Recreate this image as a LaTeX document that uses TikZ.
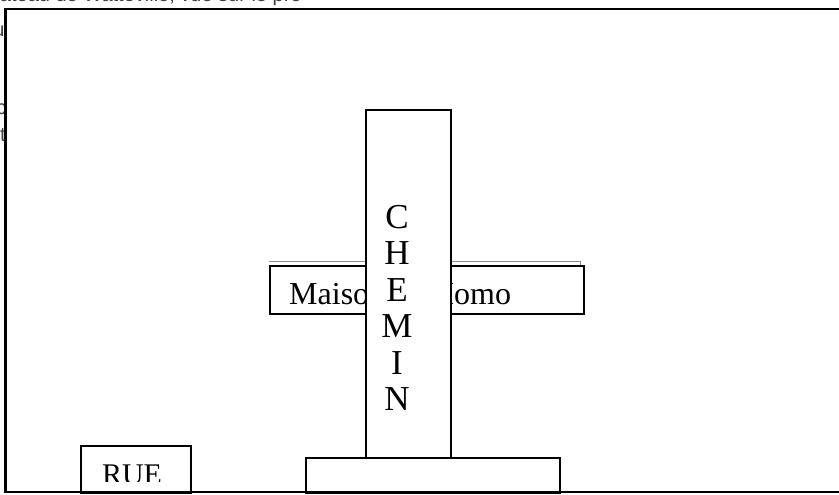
\documentclass[tikz,border=0pt]{standalone}
\usepackage{fontspec}
\setmainfont{Liberation Serif}
\newfontfamily\labelsans{Liberation Sans}
\begin{document}
\begin{tikzpicture}[x=1pt,y=-1pt,
  plotbox/.style={draw=black, line width=1.8pt, fill=white, inner sep=0pt, anchor=north west},
  frameline/.style={draw=black, line width=2.4pt},
  bigtext/.style={font=\fontsize{32}{32}\selectfont, inner sep=0pt},
  lettertext/.style={font=\fontsize{35}{35}\selectfont, inner sep=0pt, anchor=base},
  straytext/.style={font=\labelsans\fontsize{20}{20}\selectfont, inner sep=0pt, text=black!75},
]
\useasboundingbox (0,0) rectangle (839,495);
\fill[white] (0,0) rectangle (839,495);

% lines of text that run under the frame and are cut off by it
\begin{scope}
  \clip (0,0) rectangle (839,6.5);
  \node[straytext, anchor=base west] (toptext) at (-18,1.5) {Plateau de Watteville, vue sur le pré};
\end{scope}
\begin{scope}
  \clip (0,0) rectangle (4.3,495);
  \node[straytext, anchor=base east] (leftu) at (4.6,37) {u};
  \node[straytext, anchor=base east] (leftc) at (6.5,114) {c};
  \node[straytext, anchor=base east] (leftt) at (6.0,142) {t};
\end{scope}

% house, with the faint outline of a second box behind it
\draw[black!45, line width=0.8pt] (269,261) -- (580,261) -- (580,265);
\node[plotbox, minimum width=314pt, minimum height=48pt] (maison) at (269,265) {};
\node[bigtext, anchor=base west] (maisonlabel) at (289,304) {Maison\hspace{32.5pt} Momo};

% the path, running down over the house
\node[plotbox, minimum width=85pt, minimum height=348pt] (chemin) at (365,109) {};
\foreach \ch [count=\i from 0] in {C,H,E,M,I,N}
  \node[lettertext] (chemin-\i) at (397,228+36.5*\i) {\ch};

% block at the foot of the path
\node[plotbox, minimum width=254pt, minimum height=35pt] (foot) at (305,457) {};

% street box, its label cut off at the bottom
\node[plotbox, minimum width=110pt, minimum height=47pt] (rue) at (80,445) {};
\begin{scope}
  \clip (80,445) rectangle (190,481.5);
  \node[bigtext, font=\fontsize{30}{30}\selectfont, anchor=base] (ruelabel) at (132,484) {RUE};
\end{scope}

% frame, open on the right
\draw[frameline] (845,9) -- (5.5,9) -- (5.5,492) -- (845,492);
\end{tikzpicture}
\end{document}
